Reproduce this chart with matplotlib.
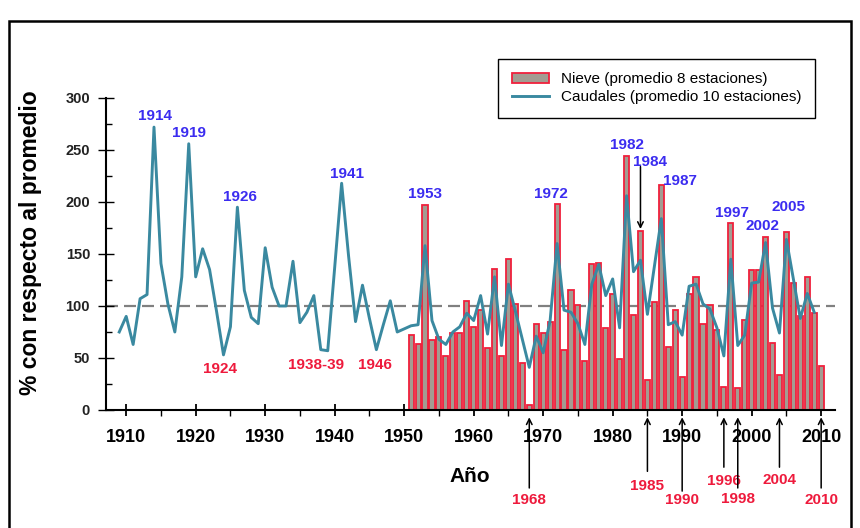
import matplotlib
matplotlib.use('Agg')
import matplotlib.pyplot as plt
from matplotlib.patches import Rectangle

plt.rcParams['font.family'] = ['Liberation Sans', 'DejaVu Sans']

# caudales (promedio 10 estaciones), 1909-2009
years_q = list(range(1909, 2010))
caudales = [75, 90, 63, 107, 111, 272, 141, 102, 75, 128,
            256, 128, 155, 135, 95, 53, 80, 195, 115, 89,
            83, 156, 118, 100, 100, 143, 84, 94, 110, 58,
            57, 137, 218, 148, 85, 120, 88, 58, 82, 105,
            75, 78, 81, 82, 158, 86, 68, 63, 75, 80,
            93, 86, 110, 73, 128, 62, 121, 95, 68, 41,
            71, 55, 86, 160, 96, 94, 83, 63, 121, 140,
            110, 126, 79, 206, 133, 144, 92, 138, 184, 82,
            85, 72, 119, 121, 102, 97, 79, 52, 145, 62,
            72, 122, 123, 161, 98, 74, 164, 126, 88, 112,
            94]

# nieve (promedio 8 estaciones), 1951-2010
years_n = list(range(1951, 2011))
nieve = [72, 63, 197, 67, 70, 52, 74, 74, 105, 80,
         96, 60, 136, 52, 145, 102, 45, 5, 83, 74,
         85, 198, 58, 115, 101, 47, 140, 141, 79, 112,
         49, 244, 91, 172, 29, 104, 216, 61, 96, 32,
         112, 128, 83, 101, 77, 22, 180, 21, 87, 135,
         135, 166, 64, 34, 171, 122, 90, 128, 93, 42]

# años destacados (texto, x, y en unidades de datos)
altos = ['1914', '1919', '1926', '1941', '1953', '1972',
         '1982', '1984', '1987', '1997', '2002', '2005']
altos_x = [1914.2, 1919.0, 1926.4, 1941.8, 1953.0, 1971.1,
           1982.1, 1985.3, 1989.7, 1997.2, 2001.6, 2005.3]
altos_y = [283, 266, 205, 227, 208, 208, 255, 238, 220, 189, 177, 195]

bajos = ['1924', '1938-39', '1946']
bajos_x = [1923.5, 1937.3, 1945.8]
bajos_y = [39, 43, 43]

flechas = ['1968', '1985', '1990', '1996', '1998', '2004', '2010']
flechas_x = [1968, 1985, 1990, 1996, 1998, 2004, 2010]
flechas_cola = [-75, -59, -78, -55, -75, -55, -75]
flechas_txt = [-87, -73, -87, -68, -86, -67, -87]

azul = '#3b2cf0'
rojo = '#ee1a3c'

fig = plt.figure(figsize=(8.6, 5.28), dpi=100)
ax = fig.add_axes([0.1233, 0.2235, 0.8477, 0.5909])

barras = ax.bar(years_n, nieve, width=0.74, color='#a39c92', edgecolor='#f0203c',
                linewidth=1.3, label='Nieve (promedio 8 estaciones)', zorder=2)
linea, = ax.plot(years_q, caudales, color='#3a89a0', lw=2.1,
                 label='Caudales (promedio 10 estaciones)', zorder=3)
ax.axhline(100, color='#808080', ls=(0, (5.4, 2.7)), lw=1.6, zorder=1)

ax.set_xlim(1907.1, 2012)
ax.set_ylim(0, 300)
for s in ['top', 'right']:
    ax.spines[s].set_visible(False)
for s in ['left', 'bottom']:
    ax.spines[s].set_linewidth(1.5)

ax.set_xticks(range(1910, 2011, 10))
ax.set_xticks(range(1915, 2011, 10), minor=True)
ax.set_yticks(range(0, 301, 50))
ax.set_yticks(range(25, 300, 50), minor=True)
ax.tick_params(axis='x', which='major', direction='inout', length=8, width=1.3,
               pad=10, labelsize=13)
ax.tick_params(axis='x', which='minor', direction='out', length=4, width=1.0)
ax.tick_params(axis='y', which='major', direction='inout', length=11, width=1.0,
               pad=6, labelsize=10.5, labelcolor='#222222')
ax.tick_params(axis='y', which='minor', direction='in', length=4, width=1.0)
for lab in ax.get_xticklabels() + ax.get_yticklabels():
    lab.set_fontweight('bold')

fig.text(0.035, 0.54, '% con respecto al promedio', rotation=90,
         ha='center', va='center', fontsize=16.5, fontweight='bold')
fig.text(470 / 860, 1 - 477 / 528, 'Año', ha='center', va='center',
         fontsize=15, fontweight='bold')

for t, x, y in zip(altos, altos_x, altos_y):
    ax.text(x, y, t, color=azul, fontsize=11, fontweight='bold',
            ha='center', va='center')
for t, x, y in zip(bajos, bajos_x, bajos_y):
    ax.text(x, y, t, color=rojo, fontsize=11, fontweight='bold',
            ha='center', va='center')

for t, x, c, y in zip(flechas, flechas_x, flechas_cola, flechas_txt):
    ax.annotate('', xy=(x, -7), xytext=(x, c), annotation_clip=False,
                arrowprops=dict(arrowstyle='->', color='black', lw=1.1,
                                shrinkA=0, shrinkB=0))
    ax.text(x, y, t, color=rojo, fontsize=11, fontweight='bold',
            ha='center', va='center', clip_on=False)

# flecha 1984
ax.annotate('', xy=(1984, 174), xytext=(1984, 234),
            arrowprops=dict(arrowstyle='->', color='black', lw=1.1,
                            shrinkA=0, shrinkB=0))

leg = ax.legend([barras, linea],
                ['Nieve (promedio 8 estaciones)', 'Caudales (promedio 10 estaciones)'],
                loc='upper right', bbox_to_anchor=(823 / 860, 1 - 51 / 528),
                bbox_transform=fig.transFigure, frameon=True, fancybox=False,
                edgecolor='black', fontsize=11, handlelength=2.4,
                borderpad=0.9, labelspacing=0.25, framealpha=1)
leg.get_frame().set_linewidth(1.0)

fig.add_artist(Rectangle((8.5 / 860, -0.02), (851 - 8.5) / 860, 1 - 21 / 528 + 0.02,
                         transform=fig.transFigure, fill=False, lw=1.8,
                         ec='black'))

fig.savefig('out.png', dpi=100)
